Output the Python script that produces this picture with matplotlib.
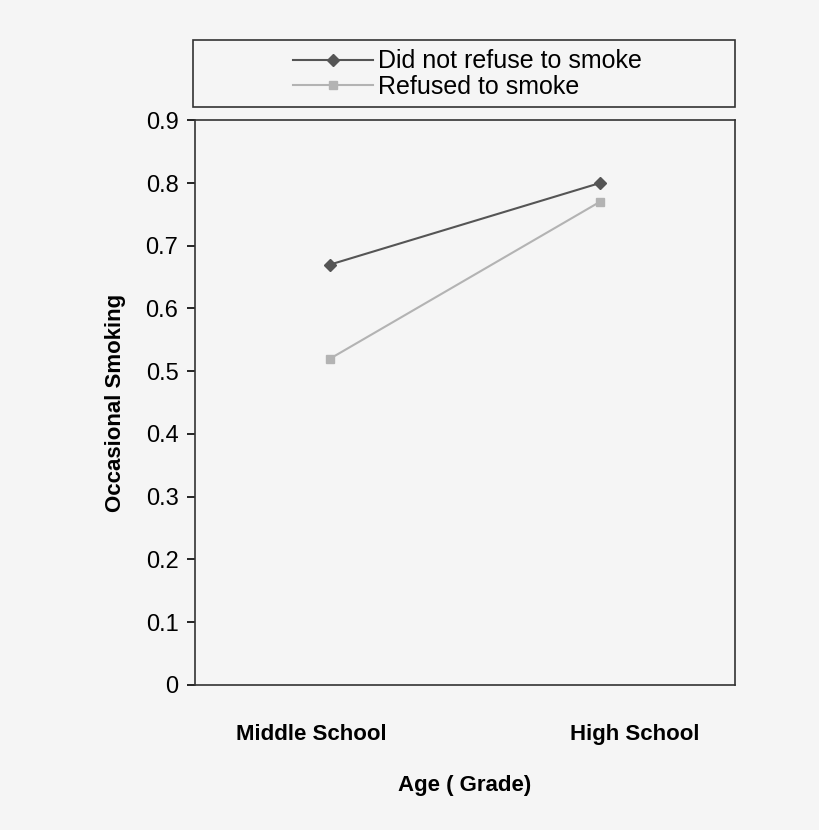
import matplotlib
matplotlib.use("Agg")
import matplotlib.pyplot as plt
from matplotlib.patches import Rectangle

categories = ["Middle School", "High School"]
did_not_refuse = [0.67, 0.80]
refused = [0.52, 0.77]
yticks = [0, 0.1, 0.2, 0.3, 0.4, 0.5, 0.6, 0.7, 0.8, 0.9]

bg = "#f5f5f5"
fig = plt.figure(figsize=(8.2, 8.3), dpi=100, facecolor=bg)
ax = fig.add_axes([0.238, 0.175, 0.658, 0.680], facecolor=bg)
x = [0, 1]
l1, = ax.plot(x, did_not_refuse, color="#555555", marker="D", markersize=6, lw=1.5, label="Did not refuse to smoke")
l2, = ax.plot(x, refused, color="#b3b3b3", marker="s", markersize=6, lw=1.5, label="Refused to smoke")
ax.set_xlim(-0.5, 1.5)
ax.set_ylim(0, 0.9)
ax.set_yticks(yticks)
ax.set_yticklabels([f"{v:g}" for v in yticks], fontsize=17, family="Liberation Sans")
ax.set_xticks([-0.07, 1.13])
ax.set_xticklabels(categories, fontsize=16, fontweight="bold", family="Liberation Sans")
ax.tick_params(axis="x", length=0, pad=28)
ax.tick_params(axis="y", length=6, width=1.2, direction="out", pad=6)
for s in ax.spines.values():
    s.set_linewidth(1.2)
    s.set_color("#333333")
ax.set_ylabel("Occasional Smoking", fontsize=16, fontweight="bold", family="Liberation Sans", labelpad=14)
ax.set_xlabel("Age ( Grade)", fontsize=16, fontweight="bold", family="Liberation Sans", labelpad=22)

fig.patches.append(Rectangle((193/820, 1-107/830), 542/820, 67/830, transform=fig.transFigure,
                             fill=False, edgecolor="#333333", lw=1.2))
fig.legend(handles=[l1, l2], loc="center", bbox_to_anchor=(0.57, 1-74/830), frameon=False,
           prop={"family": "Liberation Sans", "size": 18}, handlelength=3.2, labelspacing=0.05,
           handletextpad=0.2, borderpad=0)
fig.savefig("out.png", dpi=100, facecolor=bg)
